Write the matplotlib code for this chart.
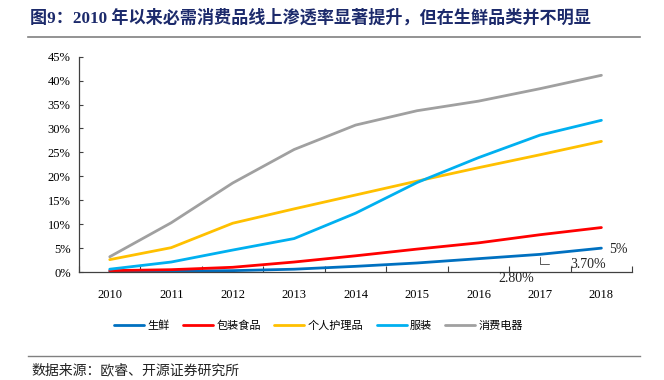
import matplotlib.pyplot as plt
from matplotlib.lines import Line2D

plt.rcParams['font.family'] = ['Liberation Serif', 'Noto Sans CJK SC', 'DejaVu Sans']

# données (en %)
annees = ['2010', '2011', '2012', '2013', '2014', '2015', '2016', '2017', '2018']
noms = ['生鲜', '包装食品', '个人护理品', '服装', '消费电器']
shengxian = [0.1, 0.2, 0.3, 0.6, 1.2, 1.9, 2.8, 3.7, 5.0]
baozhuang = [0.3, 0.5, 1.0, 2.1, 3.4, 4.8, 6.1, 7.8, 9.3]
gerenhuli = [2.6, 5.1, 10.2, 13.2, 16.1, 19.0, 21.8, 24.5, 27.3]
fuzhuang = [0.6, 2.1, 4.6, 7.0, 12.3, 18.7, 23.9, 28.6, 31.7]
dianqi = [3.2, 10.3, 18.6, 25.6, 30.7, 33.7, 35.7, 38.3, 41.1]
yticks = [0, 5, 10, 15, 20, 25, 30, 35, 40, 45]

couleurs = ['#0070C0', '#FF0000', '#FFC000', '#00B0F0', '#A0A0A0']
series = [shengxian, baozhuang, gerenhuli, fuzhuang, dianqi]

fig = plt.figure(figsize=(6.64, 3.80), dpi=100)
ax = fig.add_axes([0.119, 0.284, 0.833, 0.567])

x = list(range(len(annees)))
for vals, c, nom in zip(series, couleurs, noms):
    ax.plot(x, vals, color=c, lw=2.0, label=nom, solid_capstyle='round')

ax.set_xlim(-0.5, len(annees) - 0.5)
ax.set_ylim(0, 45)
ax.set_yticks(yticks)
ax.set_yticklabels([f'{v}%' for v in yticks], fontsize=9)
ax.set_xticks([i - 0.5 for i in range(len(annees) + 1)])
ax.set_xticklabels([])
ax.set_xticks(x, minor=True)
ax.set_xticklabels(annees, minor=True, fontsize=9)
ax.tick_params(axis='x', which='major', direction='in', length=4, color='#404040')
ax.tick_params(axis='x', which='minor', length=0, pad=12)
ax.tick_params(axis='y', direction='in', length=3, color='#404040', pad=6)
for s in ['top', 'right']:
    ax.spines[s].set_visible(False)
for s in ['left', 'bottom']:
    ax.spines[s].set_color('#404040')
    ax.spines[s].set_linewidth(0.9)

# étiquettes de la série 生鲜
ax.annotate('2.80%', (6, shengxian[6]), xytext=(27, -14), textcoords='offset points',
            fontsize=10, ha='center', va='center', color='#222222')
ax.annotate('3.70%', (7, shengxian[7]), xytext=(35, -7), textcoords='offset points',
            fontsize=10, ha='center', va='center', color='#222222',
            arrowprops=dict(arrowstyle='-', color='#404040', lw=0.6,
                            connectionstyle='angle,angleA=0,angleB=90',
                            shrinkA=14, shrinkB=2))
ax.annotate('5%', (8, shengxian[8]), xytext=(12, -1), textcoords='offset points',
            fontsize=10, ha='center', va='center', color='#222222')

fig.legend(loc='center', bbox_to_anchor=(0.48, 0.142), ncol=5, frameon=False,
           prop={'family': 'Noto Sans CJK SC', 'size': 8}, handlelength=2.7,
           handletextpad=0.3, columnspacing=1.2)

fig.text(0.045, 0.952, '图9：2010 年以来必需消费品线上渗透率显著提升，但在生鲜品类并不明显',
         fontsize=12.3, fontweight='bold', color='#1c2a6b', va='center', ha='left')
fig.add_artist(Line2D([0.042, 0.964], [0.902, 0.902], color='#808080', lw=1.2))
fig.add_artist(Line2D([0.042, 0.964], [0.063, 0.063], color='#808080', lw=1.0))
fig.text(0.047, 0.024, '数据来源：欧睿、开源证券研究所', fontsize=10, va='center',
         ha='left', family=['Noto Sans CJK SC', 'DejaVu Sans'], color='#222222')

plt.savefig('out.png', dpi=100)
